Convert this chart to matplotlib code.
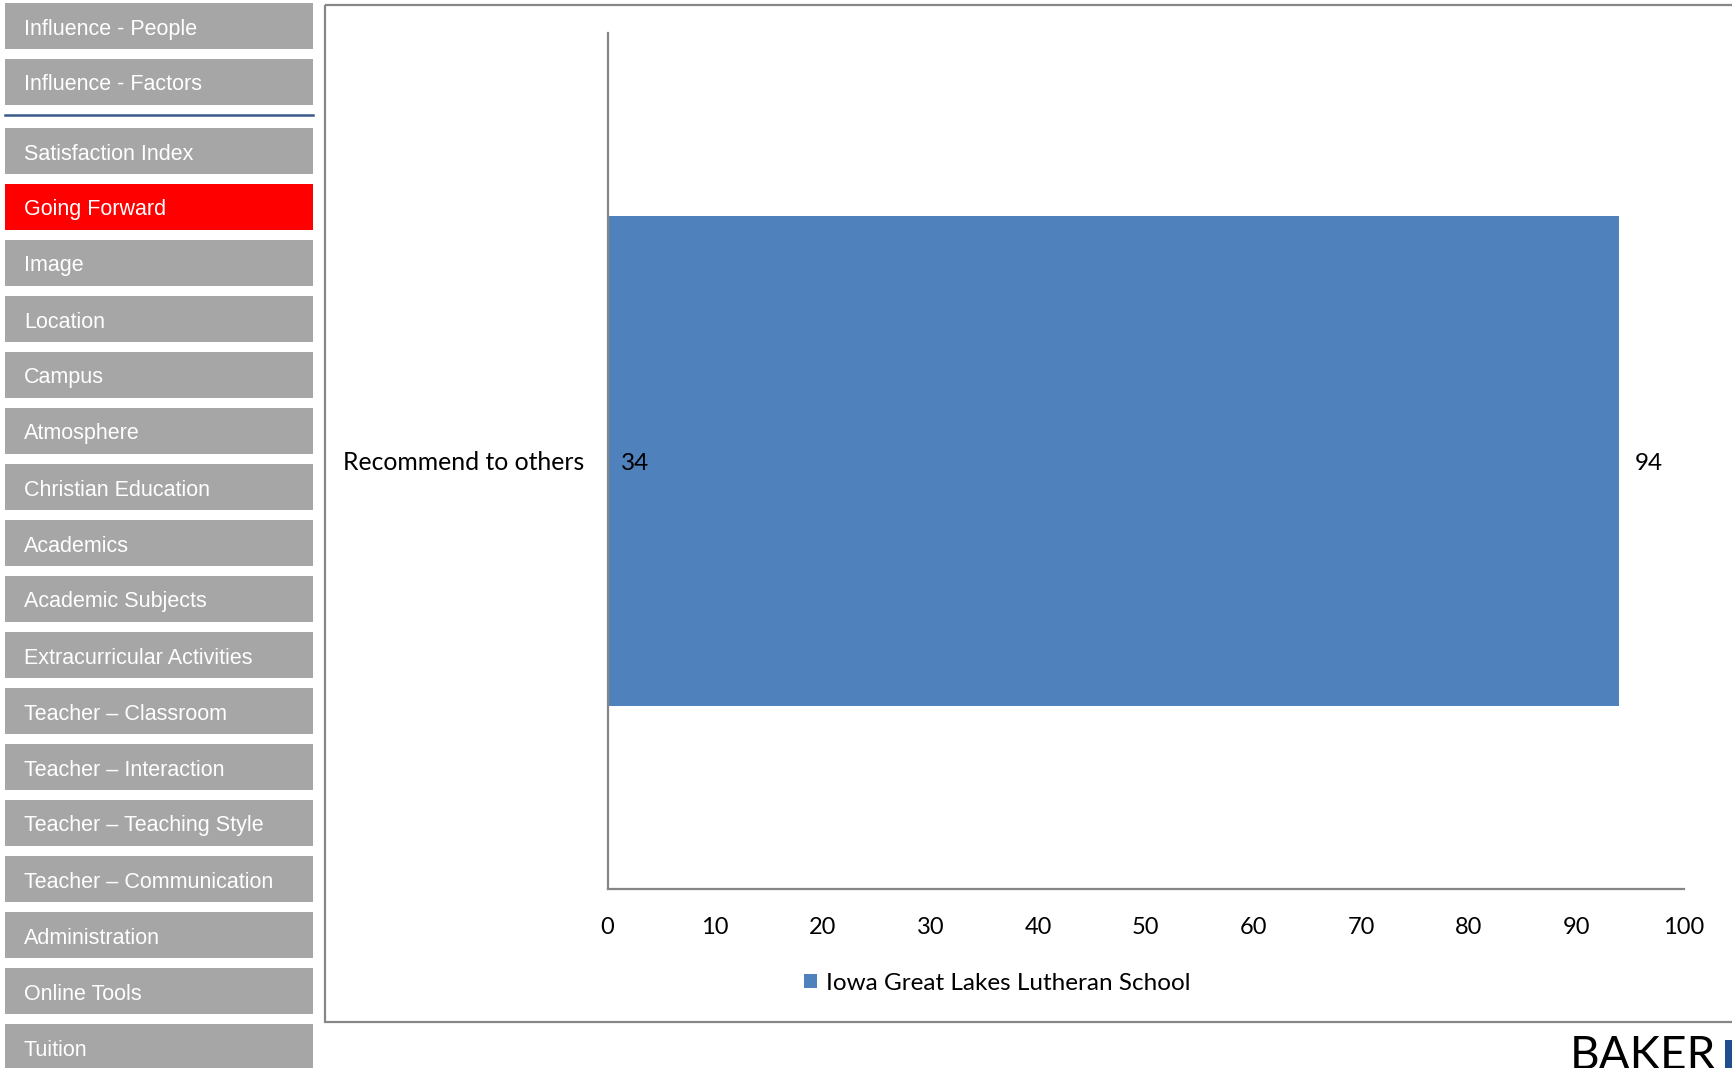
import matplotlib.pyplot as plt
from matplotlib.patches import Rectangle

# menu on the left side of the slide
menu_top = ["Influence - People", "Influence - Factors"]
menu_items = ["Satisfaction Index", "Going Forward", "Image", "Location", "Campus",
              "Atmosphere", "Christian Education", "Academics", "Academic Subjects",
              "Extracurricular Activities", "Teacher \u2013 Classroom",
              "Teacher \u2013 Interaction", "Teacher \u2013 Teaching Style",
              "Teacher \u2013 Communication", "Administration", "Online Tools", "Tuition"]
active_item = "Going Forward"

# chart data
categories = ["Recommend to others"]
scores = [94]
counts = [34]
series_name = "Iowa Great Lakes Lutheran School"
xticks = [0, 10, 20, 30, 40, 50, 60, 70, 80, 90, 100]

W, H = 1732, 1068
GRAY = "#a6a6a6"
BLUE = "#4f81bd"
AXIS = "#868686"

fig = plt.figure(figsize=(W / 100, H / 100), dpi=100)

# background layer in pixel coordinates
bg = fig.add_axes([0, 0, 1, 1])
bg.set_xlim(0, W)
bg.set_ylim(H, 0)
bg.axis("off")

def button(y, label, color):
    bg.add_patch(Rectangle((5, y), 308, 46, facecolor=color, edgecolor="none"))
    bg.text(24, y + 26, label, color="white", fontsize=15.5, va="center", ha="left",
            family="Liberation Sans")

for i, label in enumerate(menu_top):
    button(3 + 56 * i, label, GRAY)
bg.plot([5, 313], [115, 115], color="#3b5a8c", lw=1.8)
for i, label in enumerate(menu_items):
    button(128 + 56 * i, label, "#ff0000" if label == active_item else GRAY)

# chart frame
bg.add_patch(Rectangle((325, 5), 1440, 1017, facecolor="none", edgecolor="#878787", lw=1.6))

# logo
bg.text(1570, 1069, "BAKER", fontsize=33, family="Lato", color="black", ha="left", va="baseline")
bg.add_patch(Rectangle((1725, 1040), 10, 30, facecolor="#1f4e8c", edgecolor="none"))

# the chart
ax = fig.add_axes([607.5 / W, 1 - 889 / H, (1684 - 607.5) / W, (889 - 33) / H])
bars = ax.barh(categories, scores, height=0.572, color=BLUE, label=series_name)
ax.set_xlim(0, 100)
ax.set_ylim(0.5, -0.5)
ax.set_xticks(xticks)
ax.tick_params(axis="both", length=0, labelsize=17)
ax.tick_params(axis="x", pad=20)
ax.tick_params(axis="y", pad=17)
for lab in ax.get_xticklabels():
    lab.set_family("Lato")
for lab in ax.get_yticklabels():
    lab.set_family("Lato")
    lab.set_fontsize(17.8)
    lab.set_va("center_baseline")
for side in ["top", "right"]:
    ax.spines[side].set_visible(False)
for side in ["left", "bottom"]:
    ax.spines[side].set_color(AXIS)
    ax.spines[side].set_linewidth(1.6)

for i, v in enumerate(scores):
    ax.annotate(str(v), (v, i), xytext=(11, 0), textcoords="offset points",
                fontsize=17.5, family="Lato", va="center_baseline", ha="left")
for i, c in enumerate(counts):
    ax.annotate(str(c), (0, i), xytext=(10, 0), textcoords="offset points",
                fontsize=17.5, family="Lato", va="center_baseline", ha="left")

leg = ax.legend(loc="center", bbox_to_anchor=(997 / W, 1 - 983 / H),
                bbox_transform=fig.transFigure, frameon=False,
                handlelength=0.55, handleheight=0.55, handletextpad=0.35,
                prop={"family": "Lato", "size": 17.5})

fig.savefig("out.png", dpi=100)
